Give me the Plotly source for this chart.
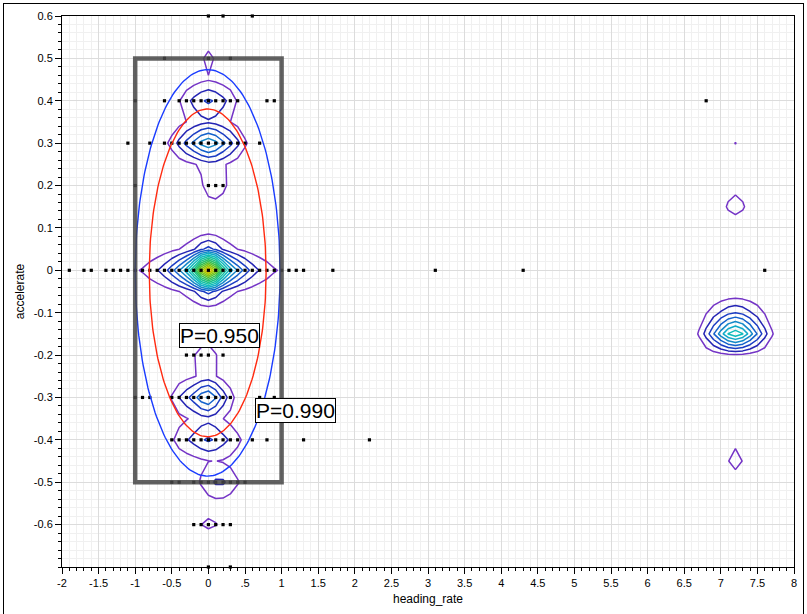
import numpy as np
import plotly.graph_objects as go

# ---------------- data ----------------
# scatter points: one list of x per accelerate level, with duplicate counts
row_y = [0.6, 0.5, 0.4, 0.3, 0.2, 0.0, -0.2, -0.3, -0.4, -0.5, -0.6, -0.7]

r060_x = [0, 0.2, 0.6]
r060_n = [1, 1, 1]
r050_x = [-0.6, 0, 0.3]
r050_n = [1, 4, 1]
r040_x = [-1.0, -0.6, -0.4, -0.3, -0.2, -0.1, 0, 0.1, 0.2, 0.3, 0.4, 0.8, 0.9, 6.8]
r040_n = [1, 1, 1, 2, 3, 3, 5, 3, 3, 2, 1, 1, 1, 1]
r030_x = [-1.1, -0.8, -0.6, -0.5, -0.4, -0.3, -0.2, -0.1, 0, 0.1, 0.2, 0.3, 0.4, 0.5, 0.7]
r030_n = [1, 1, 1, 1, 3, 4, 5, 6, 9, 6, 5, 4, 3, 1, 1]
r020_x = [-1.0, 0, 0.1, 0.2]
r020_n = [1, 3, 3, 2]
r000_x = [-1.9, -1.7, -1.6, -1.4, -1.3, -1.2, -1.1, -1.0, -0.9, -0.8, -0.7, -0.6, -0.5,
          -0.4, -0.3, -0.2, -0.1, 0, 0.1, 0.2, 0.3, 0.4, 0.5, 0.6, 0.7, 0.8, 0.9, 1.0,
          1.1, 1.2, 1.3, 1.7, 3.1, 4.3, 7.6]
r000_n = [1, 1, 1, 1, 1, 1, 1, 1, 1, 2, 2, 3, 4,
          6, 7, 10, 14, 30, 14, 10, 7, 6, 4, 3, 2, 2, 1, 1,
          1, 1, 1, 1, 1, 1, 1]
rm020_x = [-0.3, -0.2, -0.1, 0, 0.2]
rm020_n = [1, 1, 1, 4, 1]
rm030_x = [-1.0, -0.9, -0.8, -0.5, -0.4, -0.3, -0.2, -0.1, 0, 0.1, 0.2, 0.3, 0.7, 0.9]
rm030_n = [1, 1, 1, 1, 3, 3, 4, 5, 9, 4, 3, 2, 1, 1]
rm040_x = [-0.5, -0.4, -0.3, -0.2, -0.1, 0, 0.1, 0.2, 0.3, 0.4, 0.6, 0.8, 1.3, 2.2]
rm040_n = [1, 2, 2, 3, 3, 5, 3, 3, 2, 2, 1, 1, 1, 1]
rm050_x = [-0.5, -0.4, -0.2, -0.1, 0, 0.1, 0.2, 0.3, 0.4, 0.5]
rm050_n = [1, 1, 1, 1, 2, 3, 3, 2, 1, 1]
rm060_x = [-0.2, -0.1, 0, 0.1, 0.2, 0.3]
rm060_n = [1, 1, 2, 1, 1, 1]
rm070_x = [0, 0.3]
rm070_n = [1, 1]

rows_x = [r060_x, r050_x, r040_x, r030_x, r020_x, r000_x, rm020_x, rm030_x,
          rm040_x, rm050_x, rm060_x, rm070_x]
rows_n = [r060_n, r050_n, r040_n, r030_n, r020_n, r000_n, rm020_n, rm030_n,
          rm040_n, rm050_n, rm060_n, rm070_n]

# density-only observations (clusters drawn only as contours)
extra_x = [6.7, 6.8, 6.9, 7.0, 7.1, 7.2, 7.3, 7.4, 7.5, 7.6, 7.7,
           7.1, 7.2, 7.3, 7.2, 7.2]
extra_y = [-0.14] * 11 + [0.16, 0.16, 0.16, 0.29, -0.44]
extra_w = [1, 3, 5, 7, 9, 12, 9, 7, 5, 3, 1,
           2, 2.4, 2, 3.3, 5]

# bivariate normal ellipse parameters
mean_x, mean_y = -0.01, -0.006
sd_x, sd_y = 0.326, 0.158
ellipse_p = [0.95, 0.99]
ellipse_col = ["#ff2a10", "#1a3cff"]
ellipse_lab = ["P=0.950", "P=0.990"]
label_x = [0.15, 1.19]
label_y = [-0.153, -0.33]

# kernel and grid settings
hx, hy = 0.1, 0.028
level_step = 3.0
n_levels = 16
level_colors = ["#7434c6", "#2424b4", "#1a3cc4", "#1462cc", "#1488c8", "#10aac8",
                "#10bcbc", "#14c0a4", "#1cc088", "#28c06c", "#38c050", "#58c030",
                "#7cc418", "#a0c808", "#c4c000", "#dcb400"]

xticks = [-2, -1.5, -1, -0.5, 0, 0.5, 1, 1.5, 2, 2.5, 3, 3.5, 4, 4.5, 5, 5.5, 6, 6.5, 7, 7.5, 8]
xtick_text = ["-2", "-1.5", "-1", "-0.5", "0", ".5", "1", "1.5", "2", "2.5", "3", "3.5",
              "4", "4.5", "5", "5.5", "6", "6.5", "7", "7.5", "8"]
yticks = [0.6, 0.5, 0.4, 0.3, 0.2, 0.1, 0, -0.1, -0.2, -0.3, -0.4, -0.5, -0.6]
ytick_text = ["0.6", "0.5", "0.4", "0.3", "0.2", "0.1", "0", "-0.1", "-0.2", "-0.3",
              "-0.4", "-0.5", "-0.6"]

# ---------------- assemble ----------------
px, py, pw = [], [], []
for yv, xs, ns in zip(row_y, rows_x, rows_n):
    for xv, nv in zip(xs, ns):
        px.append(xv); py.append(yv); pw.append(nv)

dx_all = np.array(px + extra_x, dtype=float)
dy_all = np.array(py + extra_y, dtype=float)
dw_all = np.array(pw + extra_w, dtype=float)

gx = np.round(np.arange(-2.0, 8.0001, 0.1), 3)
gy = np.round(np.arange(-0.7, 0.6001, 0.05), 3)
GX, GY = np.meshgrid(gx, gy)
Z = np.zeros_like(GX)
for a, b, w in zip(dx_all, dy_all, dw_all):
    Z += w * np.exp(-0.5 * ((GX - a) / hx) ** 2 - 0.5 * ((GY - b) / hy) ** 2)

lo = level_step
hi = level_step * n_levels
cscale = [[i / (n_levels - 1), c] for i, c in enumerate(level_colors)]

fig = go.Figure()

fig.add_trace(go.Contour(
    x=gx, y=gy, z=Z,
    autocontour=False,
    contours=dict(start=lo, end=hi, size=level_step, coloring="lines"),
    colorscale=cscale, zmin=lo, zmax=hi, zauto=False,
    line=dict(width=1.5, smoothing=0),
    showscale=False, hoverinfo="skip",
))

fig.add_trace(go.Scatter(
    x=px, y=py, mode="markers",
    marker=dict(symbol="square", size=3.2, color="black", line=dict(width=0)),
    hoverinfo="skip", showlegend=False, cliponaxis=False,
))

t = np.linspace(0, 2 * np.pi, 241)
for p, col in zip(ellipse_p, ellipse_col):
    r = np.sqrt(-2 * np.log(1 - p))
    fig.add_trace(go.Scatter(
        x=mean_x + r * sd_x * np.cos(t), y=mean_y + r * sd_y * np.sin(t),
        mode="lines", line=dict(color=col, width=1.4),
        hoverinfo="skip", showlegend=False,
    ))

for lab, lx, ly in zip(ellipse_lab, label_x, label_y):
    fig.add_annotation(
        x=lx, y=ly, text=lab, showarrow=False,
        font=dict(family="Liberation Sans, Arial, sans-serif", size=21, color="black"),
        bgcolor="white", bordercolor="black", borderwidth=1, borderpad=0,
    )

fig.add_shape(type="rect", x0=-1, x1=1, y0=-0.5, y1=0.5, xref="x", yref="y",
              line=dict(color="rgba(70,70,70,0.85)", width=4.5))

L, R, T, B = 62, 10, 15, 47
W, H = 807, 614

font_fam = "Liberation Sans, Arial, sans-serif"
fig.update_layout(
    width=W, height=H,
    margin=dict(l=L, r=R, t=T, b=B),
    paper_bgcolor="white", plot_bgcolor="white",
    showlegend=False,
    font=dict(family=font_fam, size=11, color="black"),
    xaxis=dict(
        range=[-2, 8], tickmode="array", tickvals=xticks, ticktext=xtick_text,
        ticks="outside", ticklen=6, tickcolor="black", showline=True, linecolor="black",
        linewidth=1, mirror=True, showgrid=True, gridcolor="#dcdcdc", gridwidth=1,
        zeroline=False,
        minor=dict(tickmode="linear", tick0=0, dtick=0.1, ticks="outside", ticklen=3,
                   tickcolor="black", showgrid=True, gridcolor="#f0f0f0"),
        title=dict(text="heading_rate", font=dict(size=12), standoff=6),
        tickfont=dict(size=11),
    ),
    yaxis=dict(
        range=[-0.7, 0.6], tickmode="array", tickvals=yticks, ticktext=ytick_text,
        ticks="outside", ticklen=6, tickcolor="black", showline=True, linecolor="black",
        linewidth=1, mirror=True, showgrid=True, gridcolor="#dcdcdc", gridwidth=1,
        zeroline=False,
        minor=dict(tickmode="linear", tick0=0, dtick=0.02, ticks="outside", ticklen=3,
                   tickcolor="black", showgrid=True, gridcolor="#f0f0f0"),
        title=dict(text="accelerate", font=dict(size=12), standoff=6),
        tickfont=dict(size=11),
    ),
)

# report frame drawn as an overlay box around the chart (left, top, right edges)
frame_js = (
    "document.body.style.margin='0';"
    "var f=document.createElement('div');"
    "f.style.cssText='position:absolute;left:3px;top:3px;width:801px;height:640px;"
    "border:1px solid black;pointer-events:none;box-sizing:border-box;';"
    "document.body.appendChild(f);"
    "document.body.style.overflow='hidden';"
)

fig.write_html("out.html", config={"displayModeBar": False}, post_script=frame_js)
